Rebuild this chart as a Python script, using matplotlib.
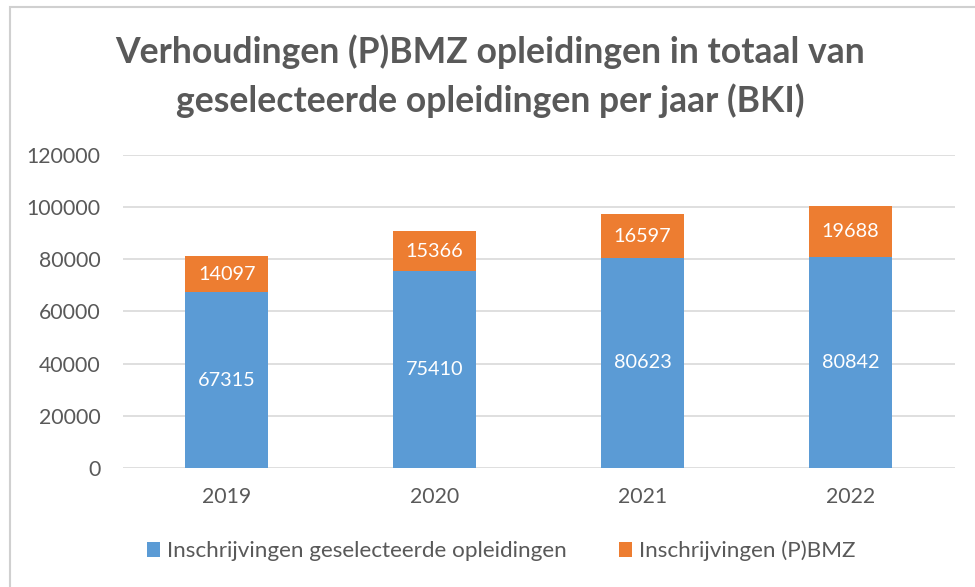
import matplotlib.pyplot as plt
from matplotlib.patches import Rectangle

jaren = ['2019', '2020', '2021', '2022']
geselecteerd = [67315, 75410, 80623, 80842]
pbmz = [14097, 15366, 16597, 19688]
yticks = [0, 20000, 40000, 60000, 80000, 100000, 120000]

blauw = '#5B9BD5'
oranje = '#ED7D31'
grijs = '#595959'

plt.rcParams['font.family'] = ['Lato', 'DejaVu Sans']

fig = plt.figure(figsize=(9.75, 5.87), dpi=100)
ax = fig.add_axes([0.126, 0.2027, 0.853, 0.5333])

x = range(len(jaren))
b1 = ax.bar(x, geselecteerd, width=0.4, color=blauw, zorder=3,
            label='Inschrijvingen geselecteerde opleidingen')
b2 = ax.bar(x, pbmz, width=0.4, bottom=geselecteerd, color=oranje, zorder=3,
            label='Inschrijvingen (P)BMZ')
ax.bar_label(b1, labels=[str(v) for v in geselecteerd], label_type='center',
             color='white', fontsize=14.3)
ax.bar_label(b2, labels=[str(v) for v in pbmz], label_type='center',
             color='white', fontsize=14.3)

ax.set_ylim(0, 120000)
ax.set_xlim(-0.5, len(jaren) - 0.5)
ax.set_yticks(yticks)
ax.set_yticklabels([str(t) for t in yticks])
ax.set_xticks(list(x))
ax.set_xticklabels(jaren)
ax.tick_params(axis='both', length=0, colors=grijs, labelsize=15.3)
ax.tick_params(axis='y', pad=16)
ax.tick_params(axis='x', pad=14)
ax.yaxis.grid(True, color='#d9d9d9', linewidth=1.2, zorder=0)
for s in ax.spines.values():
    s.set_visible(False)

fig.text(0.503, 0.8705, 'Verhoudingen (P)BMZ opleidingen in totaal van\n'
         'geselecteerde opleidingen per jaar (BKI)',
         ha='center', va='center', fontsize=25.6, fontweight='bold',
         color=grijs, linespacing=1.52)

leg = fig.legend(loc='center', bbox_to_anchor=(0.514, 0.061), ncol=2,
                 frameon=False, fontsize=16.2, handlelength=0.6,
                 handleheight=0.6, handletextpad=0.3, columnspacing=2.3)
for t in leg.get_texts():
    t.set_color(grijs)

# rand van de grafiek
fig.patches.append(Rectangle((10 / 975, -0.1), 1.2, 1 - 7 / 587 + 0.1,
                             transform=fig.transFigure, fill=False,
                             edgecolor='#d0d0d0', linewidth=1.5))

fig.savefig('out.png', dpi=100)
